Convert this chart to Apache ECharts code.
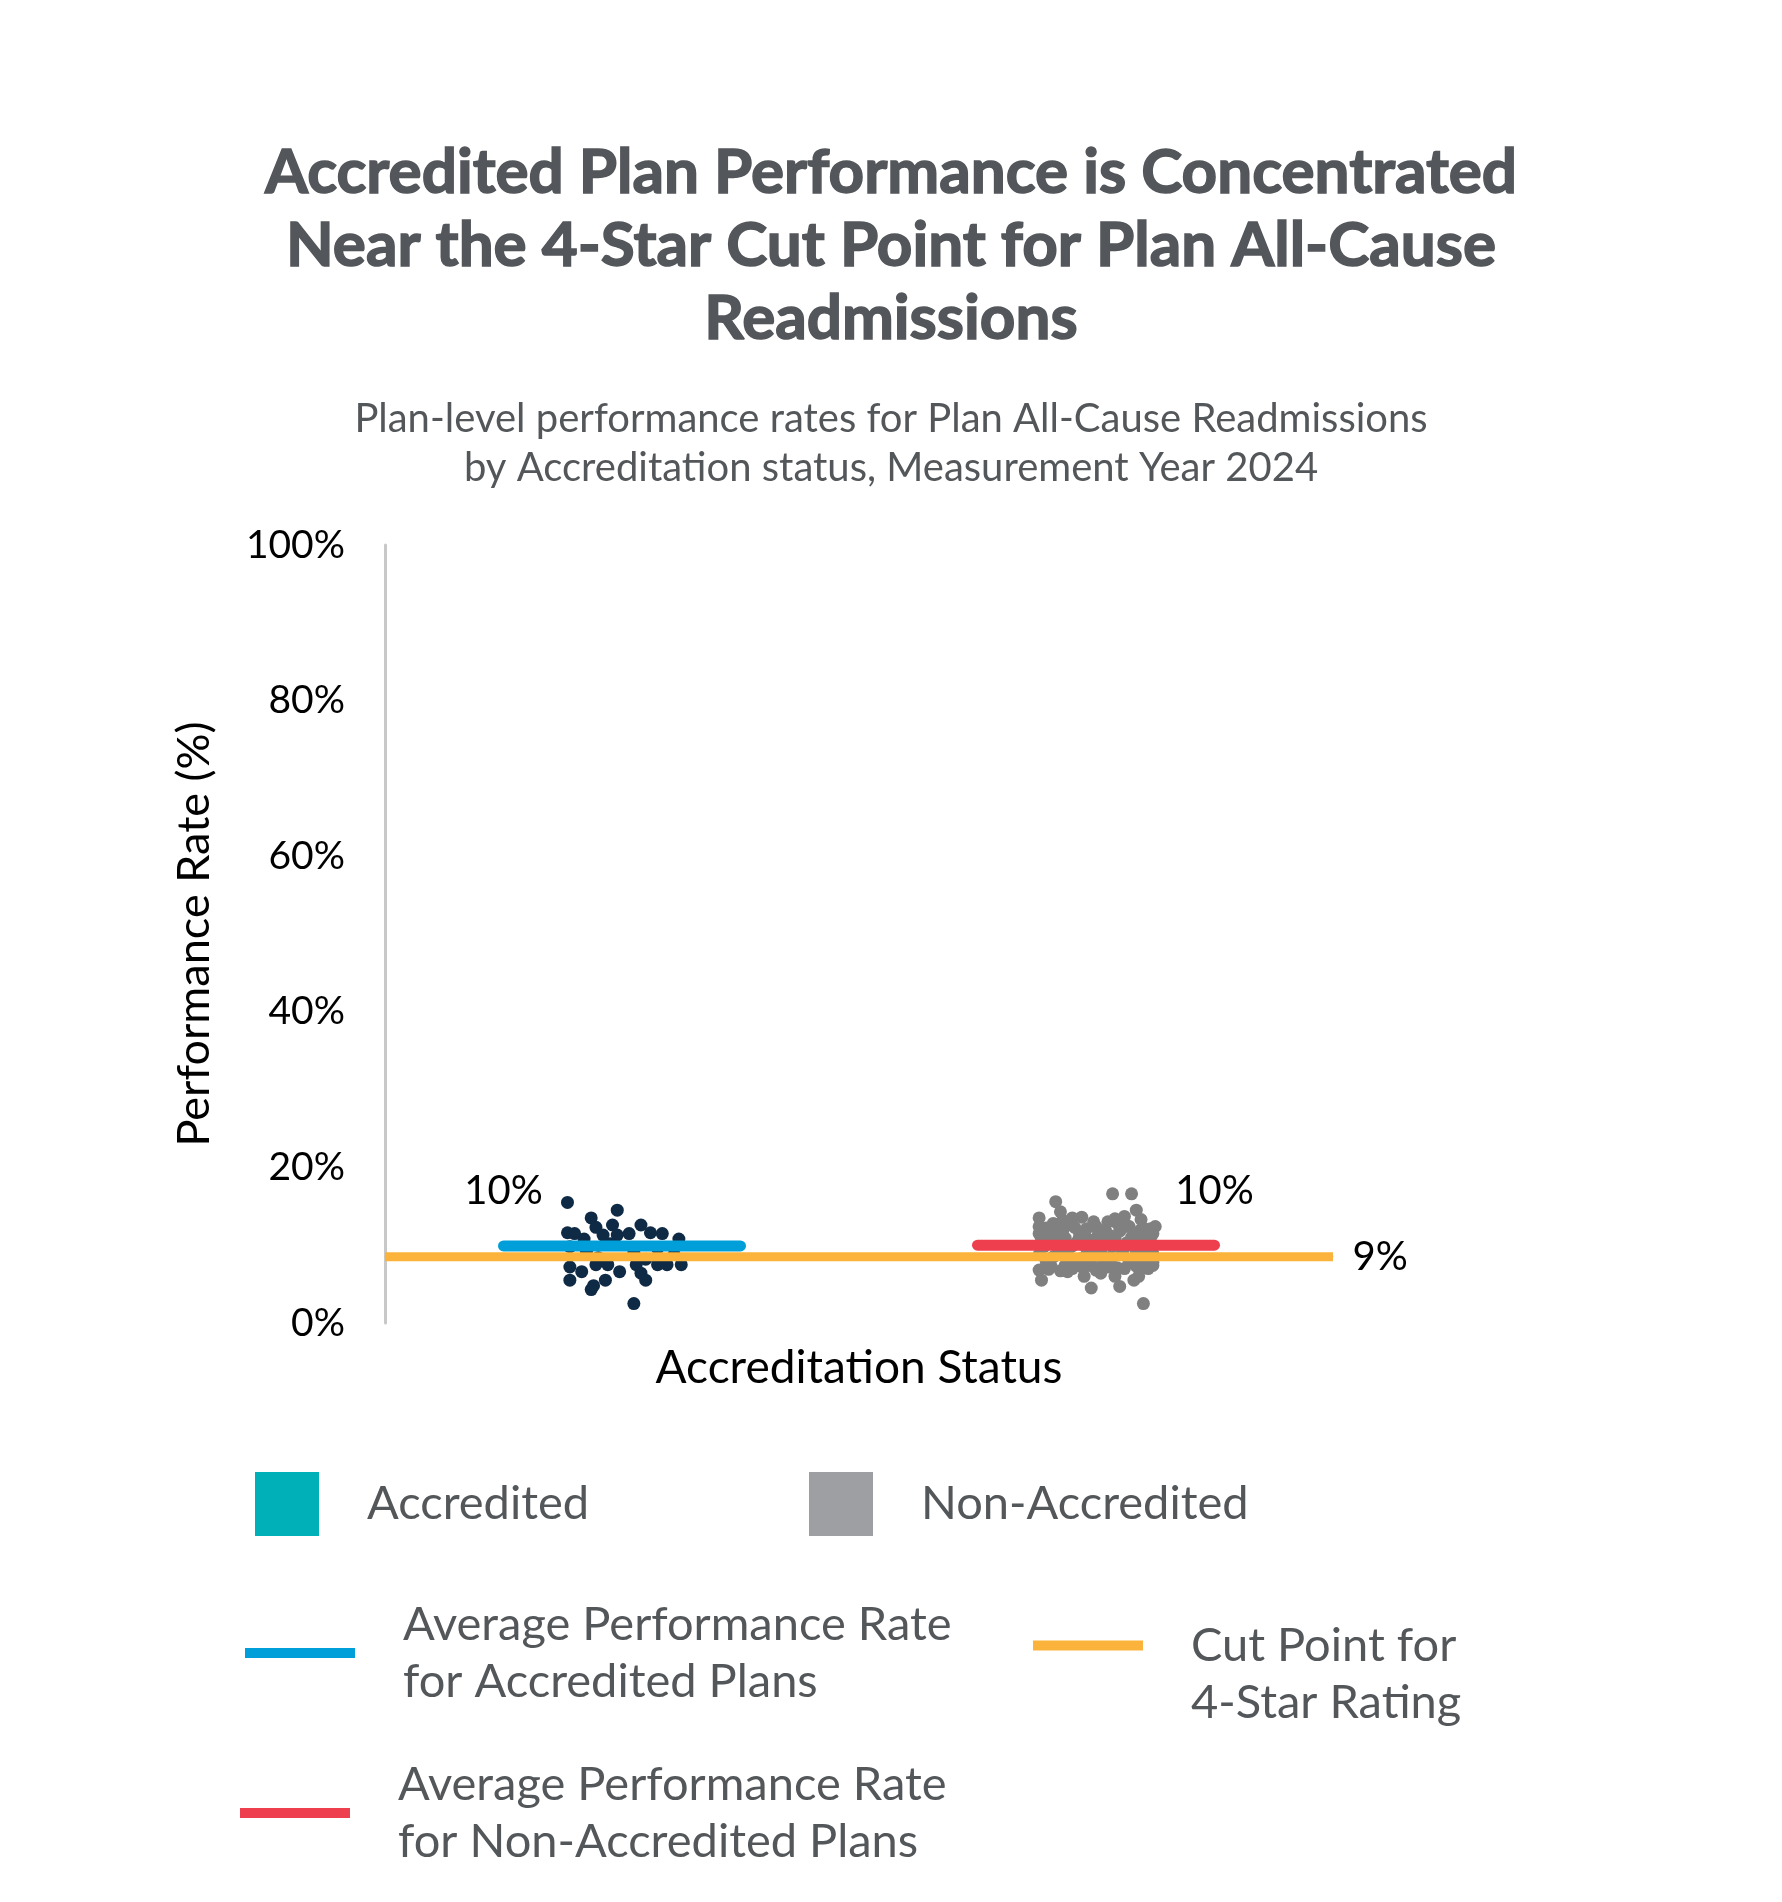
<!DOCTYPE html>
<html>
<head>
<meta charset="utf-8">
<script src="https://cdn.jsdelivr.net/npm/echarts@6/dist/echarts.min.js"></script>
<style>
  html, body { margin: 0; padding: 0; background: #fff; }
  #chart { width: 1782px; height: 1902px; }
</style>
</head>
<body>
<div id="chart"></div>
<script>
// plan-level rates, x is the jitter position around each status (1 = accredited, 3 = non-accredited)
var accreditedX = [0.77, 0.98, 0.87, 0.89, 0.96, 1.08, 0.77, 0.80, 0.84, 0.92, 0.98, 1.03, 1.12, 1.17, 1.24,
  0.78, 0.85, 0.95, 1.05, 1.15, 1.22, 0.90, 1.10,
  0.78, 0.83, 0.89, 0.94, 0.99, 1.06, 1.08, 1.15, 1.19, 1.25, 0.78, 0.88, 0.93, 1.10, 1.05, 0.87];
var accreditedY = [15.5, 14.5, 13.5, 12.3, 12.6, 12.6, 11.6, 11.5, 10.8, 11.3, 11.3, 11.5, 11.6, 11.5, 10.8,
  9.8, 9.2, 10.2, 9.0, 9.6, 8.8, 8.4, 8.2,
  7.2, 6.6, 7.5, 7.5, 6.6, 7.5, 6.4, 7.5, 7.5, 7.5, 5.5, 4.8, 5.5, 5.5, 2.5, 4.3];

var nonAccreditedX = [3.07, 3.15, 2.83, 2.85, 3.17, 2.76, 2.90, 2.94, 3.12, 3.19, 3.25, 2.76, 2.82, 2.88, 2.99,
  3.05, 3.09, 3.14, 3.20, 2.76, 3.24, 2.80, 2.86, 2.93, 3.01, 3.10, 3.16, 3.22,
  2.77, 2.81, 2.87, 2.92, 2.97, 3.03, 3.08, 3.13, 3.18, 3.23, 2.78, 2.84, 2.90, 2.96, 3.02, 3.07, 3.12, 3.17, 3.21,
  2.76, 2.82, 2.88, 2.94, 2.99, 3.05, 3.11, 3.15, 3.20, 3.24, 2.79, 2.89, 2.98, 3.06, 3.14, 3.22,
  2.76, 2.77, 2.88, 2.90, 2.95, 2.98, 3.00, 3.08, 3.10, 3.16, 3.18, 3.22, 3.24, 3.20, 2.85, 3.02,
  2.79, 2.84, 2.91, 2.96, 3.00, 3.04, 3.11, 3.13, 3.19, 3.23, 2.78, 2.83, 2.93, 3.01, 3.06, 3.15, 3.21,
  2.81, 2.87, 2.94, 3.03, 3.09, 3.17, 2.80, 2.92, 2.97, 3.05, 3.12, 3.19, 3.24, 2.86, 3.08];
var nonAccreditedY = [16.6, 16.6, 15.6, 14.3, 14.5, 13.5, 13.5, 13.6, 13.7, 13.3, 12.4, 12.4, 12.8, 12.6, 13.0,
  13.0, 12.8, 12.4, 12.2, 11.5, 11.5, 11.8, 11.9, 11.7, 12.0, 11.8, 11.6, 11.9,
  10.8, 10.5, 10.9, 10.4, 10.7, 10.6, 10.9, 10.3, 10.8, 10.5, 9.8, 9.5, 9.9, 9.6, 9.4, 9.8, 9.7, 9.3, 9.9,
  8.8, 8.5, 8.9, 8.3, 8.7, 8.4, 8.8, 8.2, 8.6, 8.9, 7.9, 7.8, 8.0, 7.7, 7.9, 7.8,
  6.8, 5.5, 6.6, 7.0, 6.0, 4.5, 6.8, 6.0, 4.7, 5.5, 6.0, 7.0, 7.4, 2.5, 6.7, 6.4,
  12.2, 12.0, 12.3, 12.1, 12.4, 11.9, 12.2, 12.5, 12.0, 12.1, 11.2, 11.3, 11.1, 11.4, 11.2, 11.0, 11.3,
  7.3, 7.4, 7.2, 7.5, 7.1, 7.3, 6.9, 7.6, 7.4, 7.2, 7.0, 7.3, 7.8, 13.2, 13.4];

var accreditedAvg = 9.9;
var nonAccreditedAvg = 10.0;
var cutPoint4Star = 8.5;
var yTicks = [0, 20, 40, 60, 80, 100];

var legendText = {
  'Average Performance Rate for Accredited Plans': 'Average Performance Rate\nfor Accredited Plans',
  'Average Performance Rate for Non-Accredited Plans': 'Average Performance Rate\nfor Non-Accredited Plans',
  // leading blank line keeps the icon level with the first line
  'Cut Point for 4-Star Rating': '\nCut Point for\n4-Star Rating'
};

function pairs(xs, ys) {
  return xs.map(function (x, i) { return [x, ys[i]]; });
}

var font = 'Lato, "Open Sans", sans-serif';
var grey = '#54575a';

function pctLabel(pos, dist) {
  return {
    show: true, position: pos, distance: dist,
    fontSize: 40, color: '#000', fontFamily: font,
    formatter: function (p) { return Math.round(p.value[1]) + '%'; }
  };
}

function legendBox(name, icon, color, left, top, w, h) {
  return {
    data: [{ name: name, icon: icon, itemStyle: { color: color } }],
    left: left, top: top, padding: 0,
    itemWidth: w, itemHeight: h,
    selectedMode: false,
    formatter: function (n) { return legendText[n] || n; },
    textStyle: { fontSize: 47, lineHeight: 57, color: grey, fontFamily: font, padding: [0, 0, 0, 43] }
  };
}

var chart = echarts.init(document.getElementById('chart'));
var option = {
  animation: false,
  backgroundColor: '#fff',
  title: [{
    text: 'Accredited Plan Performance is Concentrated\nNear the 4-Star Cut Point for Plan All-Cause\nReadmissions',
    left: 'center', top: 131,
    textStyle: {
      fontSize: 62, fontWeight: 'bold', color: '#53565a', lineHeight: 73, fontFamily: font,
      textBorderColor: '#53565a', textBorderWidth: 1.5
    }
  }, {
    text: 'Plan-level performance rates for Plan All-Cause Readmissions\nby Accreditation status, Measurement Year 2024',
    left: 'center', top: 390,
    textStyle: { fontSize: 40, fontWeight: 'normal', color: grey, lineHeight: 49, fontFamily: font }
  }],
  grid: { left: 385, top: 545, width: 948, height: 778 },
  xAxis: {
    type: 'value', min: 0, max: 4,
    name: 'Accreditation Status', nameLocation: 'middle', nameGap: 22,
    nameTextStyle: { fontSize: 46, color: '#000', fontFamily: font },
    axisLine: { show: false }, axisTick: { show: false },
    axisLabel: { show: false }, splitLine: { show: false }
  },
  yAxis: {
    type: 'value', min: yTicks[0], max: yTicks[yTicks.length - 1], interval: yTicks[1] - yTicks[0],
    name: 'Performance Rate (%)', nameLocation: 'middle', nameRotate: 90, nameGap: 168,
    nameTextStyle: { fontSize: 45, color: '#000', fontFamily: font },
    axisLine: { show: true, lineStyle: { color: '#c8c8c8', width: 3 } },
    axisTick: { show: false },
    axisLabel: { formatter: '{value}%', fontSize: 39, color: '#000', margin: 40, fontFamily: font },
    splitLine: { show: false }
  },
  legend: [
    legendBox('Accredited', 'rect', '#00b0b9', 255, 1472, 64, 64),
    legendBox('Non-Accredited', 'rect', '#9d9fa2', 809, 1472, 64, 64),
    legendBox('Average Performance Rate for Accredited Plans', 'rect', '#009fd9', 245, 1596, 110, 10),
    legendBox('Cut Point for 4-Star Rating', 'rect', '#fbb33b', 1033, 1560, 110, 10),
    legendBox('Average Performance Rate for Non-Accredited Plans', 'rect', '#ee3f4e', 240, 1756, 110, 10)
  ],
  series: [{
    name: 'Accredited', type: 'scatter', z: 2,
    symbolSize: 13, itemStyle: { color: '#0f2a45', opacity: 1 },
    data: pairs(accreditedX, accreditedY)
  }, {
    name: 'Non-Accredited', type: 'scatter', z: 2,
    symbolSize: 13, itemStyle: { color: '#808080', opacity: 1 },
    data: pairs(nonAccreditedX, nonAccreditedY)
  }, {
    name: 'Cut Point for 4-Star Rating', type: 'line', z: 3,
    symbol: 'circle', symbolSize: 1, itemStyle: { color: '#fbb33b' },
    lineStyle: { color: '#fbb33b', width: 9 },
    data: [[0, cutPoint4Star], { value: [4, cutPoint4Star], label: pctLabel('right', 19) }]
  }, {
    name: 'Average Performance Rate for Accredited Plans', type: 'line', z: 4,
    symbol: 'circle', symbolSize: 1, itemStyle: { color: '#009fd9' },
    lineStyle: { color: '#009fd9', width: 11, cap: 'round' },
    data: [{ value: [0.5, accreditedAvg], label: pctLabel('top', 34) }, [1.5, accreditedAvg]]
  }, {
    name: 'Average Performance Rate for Non-Accredited Plans', type: 'line', z: 4,
    symbol: 'circle', symbolSize: 1, itemStyle: { color: '#ee3f4e' },
    lineStyle: { color: '#ee3f4e', width: 11, cap: 'round' },
    data: [[2.5, nonAccreditedAvg], { value: [3.5, nonAccreditedAvg], label: pctLabel('top', 34) }]
  }]
};
chart.setOption(option);
</script>
</body>
</html>
